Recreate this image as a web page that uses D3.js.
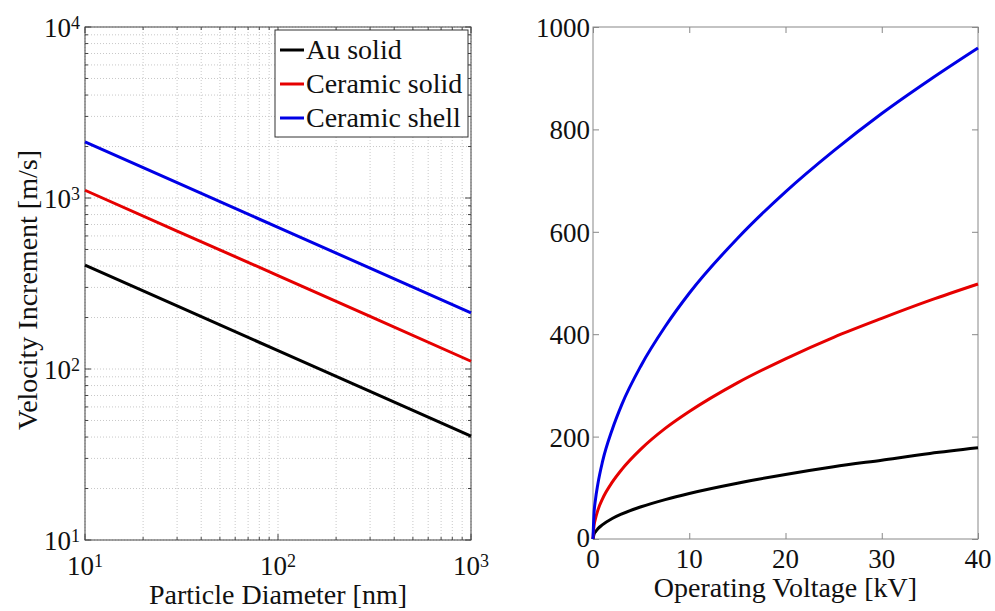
<!DOCTYPE html>
<html>
<head>
<meta charset="utf-8">
<script src="https://cdn.jsdelivr.net/npm/d3@7"></script>
<style>
  body { margin: 0; background: #fff; }
  text { font-family: "Liberation Serif", "Times New Roman", serif; fill: #111; }
</style>
</head>
<body>
<div id="chart"></div>
<script>
// ---- data ----
const seriesNames = ["Au solid", "Ceramic solid", "Ceramic shell"];
const seriesColors = ["#000000", "#e60000", "#0000e6"];

// left panel: velocity increment vs particle diameter (log-log)
const diameters = [10, 30, 100, 300, 1000];
const auSolidByDiameter = [405, 234, 128, 74, 40.5];
const ceramicSolidByDiameter = [1110, 641, 352, 203, 111];
const ceramicShellByDiameter = [2130, 1230, 673, 389, 213];

// right panel: velocity increment vs operating voltage
const voltages = [0, 0.1, 0.25, 0.5, 1, 2, 3, 5, 7.5, 10, 15, 20, 25, 30, 35, 40];
const auSolidByVoltage = [0, 9, 14, 20, 28, 40, 49, 63, 77, 89, 109, 126, 141, 154, 167, 178];
const ceramicSolidByVoltage = [0, 25, 39, 56, 79, 111, 136, 176, 216, 249, 305, 352, 394, 431, 466, 498];
const ceramicShellByVoltage = [0, 48, 76, 107, 152, 214, 263, 339, 415, 480, 587, 678, 758, 831, 897, 959];

const leftXLabels = [10, 100, 1000];
const leftYLabels = [10, 100, 1000, 10000];
const rightXTicks = [0, 10, 20, 30, 40];
const rightYTicks = [0, 200, 400, 600, 800, 1000];

const width = 995, height = 611;
const fontSize = 27;

const svg = d3.select("#chart")
  .append("svg")
  .attr("width", width)
  .attr("height", height);

// ---------------- left panel ----------------
const lx = d3.scaleLog().domain([10, 1000]).range([85, 471]);
const ly = d3.scaleLog().domain([10, 10000]).range([540, 27]);

const left = svg.append("g").attr("class", "left");

// dotted grid (major + minor)
const gridColor = "#c8c8c8";
left.append("g").attr("class", "grid")
  .selectAll("line.vx")
  .data(lx.ticks())
  .join("line")
  .attr("x1", d => lx(d)).attr("x2", d => lx(d))
  .attr("y1", ly.range()[0]).attr("y2", ly.range()[1])
  .attr("stroke", gridColor)
  .attr("stroke-width", 1)
  .attr("stroke-dasharray", "1,2");

left.append("g").attr("class", "grid")
  .selectAll("line.hy")
  .data(ly.ticks())
  .join("line")
  .attr("y1", d => ly(d)).attr("y2", d => ly(d))
  .attr("x1", lx.range()[0]).attr("x2", lx.range()[1])
  .attr("stroke", gridColor)
  .attr("stroke-width", 1)
  .attr("stroke-dasharray", "1,2");

// inward ticks on every side, majors longer
const isDecade = v => Math.abs(Math.log10(v) - Math.round(Math.log10(v))) < 1e-9;
const frameLeft = "#444";

const leftTicks = left.append("g").attr("class", "ticks").attr("stroke", frameLeft);
lx.ticks().forEach(v => {
  const len = isDecade(v) ? 6 : 3;
  leftTicks.append("line").attr("x1", lx(v)).attr("x2", lx(v))
    .attr("y1", ly.range()[0]).attr("y2", ly.range()[0] - len);
  leftTicks.append("line").attr("x1", lx(v)).attr("x2", lx(v))
    .attr("y1", ly.range()[1]).attr("y2", ly.range()[1] + len);
});
ly.ticks().forEach(v => {
  const len = isDecade(v) ? 6 : 3;
  leftTicks.append("line").attr("y1", ly(v)).attr("y2", ly(v))
    .attr("x1", lx.range()[0]).attr("x2", lx.range()[0] + len);
  leftTicks.append("line").attr("y1", ly(v)).attr("y2", ly(v))
    .attr("x1", lx.range()[1]).attr("x2", lx.range()[1] - len);
});

left.append("rect")
  .attr("x", lx.range()[0]).attr("y", ly.range()[1])
  .attr("width", lx.range()[1] - lx.range()[0])
  .attr("height", ly.range()[0] - ly.range()[1])
  .attr("fill", "none")
  .attr("stroke", frameLeft)
  .attr("stroke-width", 1);

// power-of-ten label with superscript
function powerLabel(sel, v) {
  sel.append("tspan").text("10");
  sel.append("tspan")
    .attr("dy", "-0.45em")
    .attr("font-size", 18)
    .text(Math.round(Math.log10(v)));
}

left.append("g").attr("class", "x-labels")
  .selectAll("text")
  .data(leftXLabels)
  .join("text")
  .attr("x", d => lx(d))
  .attr("y", 575)
  .attr("text-anchor", "middle")
  .attr("font-size", fontSize)
  .each(function (d) { powerLabel(d3.select(this), d); });

left.append("g").attr("class", "y-labels")
  .selectAll("text")
  .data(leftYLabels)
  .join("text")
  .attr("x", 80)
  .attr("y", d => ly(d) + 10)
  .attr("text-anchor", "end")
  .attr("font-size", fontSize)
  .each(function (d) { powerLabel(d3.select(this), d); });

left.append("text")
  .attr("x", (lx.range()[0] + lx.range()[1]) / 2)
  .attr("y", 604)
  .attr("text-anchor", "middle")
  .attr("font-size", fontSize + 1)
  .text("Particle Diameter [nm]");

left.append("text")
  .attr("transform", "translate(37,290) rotate(-90)")
  .attr("text-anchor", "middle")
  .attr("font-size", fontSize + 1)
  .text("Velocity Increment [m/s]");

const leftSeries = [auSolidByDiameter, ceramicSolidByDiameter, ceramicShellByDiameter];
const leftLine = d3.line().x(d => lx(d[0])).y(d => ly(d[1]));

left.append("g").attr("class", "lines")
  .selectAll("path")
  .data(leftSeries)
  .join("path")
  .attr("d", vals => leftLine(diameters.map((d, i) => [d, vals[i]])))
  .attr("fill", "none")
  .attr("stroke", (d, i) => seriesColors[i])
  .attr("stroke-width", 3);

// legend
const legend = left.append("g").attr("class", "legend");
legend.append("rect")
  .attr("x", 275).attr("y", 30)
  .attr("width", 193).attr("height", 107)
  .attr("fill", "#fff")
  .attr("stroke", "#333")
  .attr("stroke-width", 1);

const legendRow = legend.selectAll("g.row")
  .data(seriesNames)
  .join("g")
  .attr("transform", (d, i) => `translate(0,${50 + i * 34})`);

legendRow.append("line")
  .attr("x1", 280).attr("x2", 304)
  .attr("y1", 0).attr("y2", 0)
  .attr("stroke", (d, i) => seriesColors[i])
  .attr("stroke-width", 3);

legendRow.append("text")
  .attr("x", 306)
  .attr("y", 9)
  .attr("font-size", fontSize + 1)
  .text(d => d);

// ---------------- right panel ----------------
const rx = d3.scaleLinear().domain([0, 40]).range([593, 978]);
const ry = d3.scaleLinear().domain([0, 1000]).range([539, 27]);
const frameRight = "#888";

const right = svg.append("g").attr("class", "right");

const tickLen = 6;
right.append("g")
  .attr("transform", `translate(0,${ry.range()[0]})`)
  .call(d3.axisBottom(rx).tickValues(rightXTicks).tickSizeInner(-tickLen).tickSizeOuter(0).tickFormat(""))
  .call(g => g.select(".domain").remove())
  .call(g => g.selectAll("line").attr("stroke", frameRight));
right.append("g")
  .attr("transform", `translate(0,${ry.range()[1]})`)
  .call(d3.axisTop(rx).tickValues(rightXTicks).tickSizeInner(-tickLen).tickSizeOuter(0).tickFormat(""))
  .call(g => g.select(".domain").remove())
  .call(g => g.selectAll("line").attr("stroke", frameRight));
right.append("g")
  .attr("transform", `translate(${rx.range()[0]},0)`)
  .call(d3.axisLeft(ry).tickValues(rightYTicks).tickSizeInner(-tickLen).tickSizeOuter(0).tickFormat(""))
  .call(g => g.select(".domain").remove())
  .call(g => g.selectAll("line").attr("stroke", frameRight));
right.append("g")
  .attr("transform", `translate(${rx.range()[1]},0)`)
  .call(d3.axisRight(ry).tickValues(rightYTicks).tickSizeInner(-tickLen).tickSizeOuter(0).tickFormat(""))
  .call(g => g.select(".domain").remove())
  .call(g => g.selectAll("line").attr("stroke", frameRight));

right.append("rect")
  .attr("x", rx.range()[0]).attr("y", ry.range()[1])
  .attr("width", rx.range()[1] - rx.range()[0])
  .attr("height", ry.range()[0] - ry.range()[1])
  .attr("fill", "none")
  .attr("stroke", frameRight)
  .attr("stroke-width", 1);

right.append("g").attr("class", "x-labels")
  .selectAll("text")
  .data(rightXTicks)
  .join("text")
  .attr("x", d => rx(d))
  .attr("y", 568)
  .attr("text-anchor", "middle")
  .attr("font-size", fontSize)
  .text(d => d);

right.append("g").attr("class", "y-labels")
  .selectAll("text")
  .data(rightYTicks)
  .join("text")
  .attr("x", 590)
  .attr("y", d => ry(d) + (d === 0 ? 8 : 10))
  .attr("text-anchor", "end")
  .attr("font-size", fontSize)
  .text(d => d);

right.append("text")
  .attr("x", (rx.range()[0] + rx.range()[1]) / 2)
  .attr("y", 597)
  .attr("text-anchor", "middle")
  .attr("font-size", fontSize + 1)
  .text("Operating Voltage [kV]");

const rightSeries = [auSolidByVoltage, ceramicSolidByVoltage, ceramicShellByVoltage];
const rightLine = d3.line()
  .x(d => rx(d[0]))
  .y(d => ry(d[1]))
  .curve(d3.curveMonotoneX);

right.append("g").attr("class", "lines")
  .selectAll("path")
  .data(rightSeries)
  .join("path")
  .attr("d", vals => rightLine(voltages.map((v, i) => [v, vals[i]])))
  .attr("fill", "none")
  .attr("stroke", (d, i) => seriesColors[i])
  .attr("stroke-width", 3);
</script>
</body>
</html>
